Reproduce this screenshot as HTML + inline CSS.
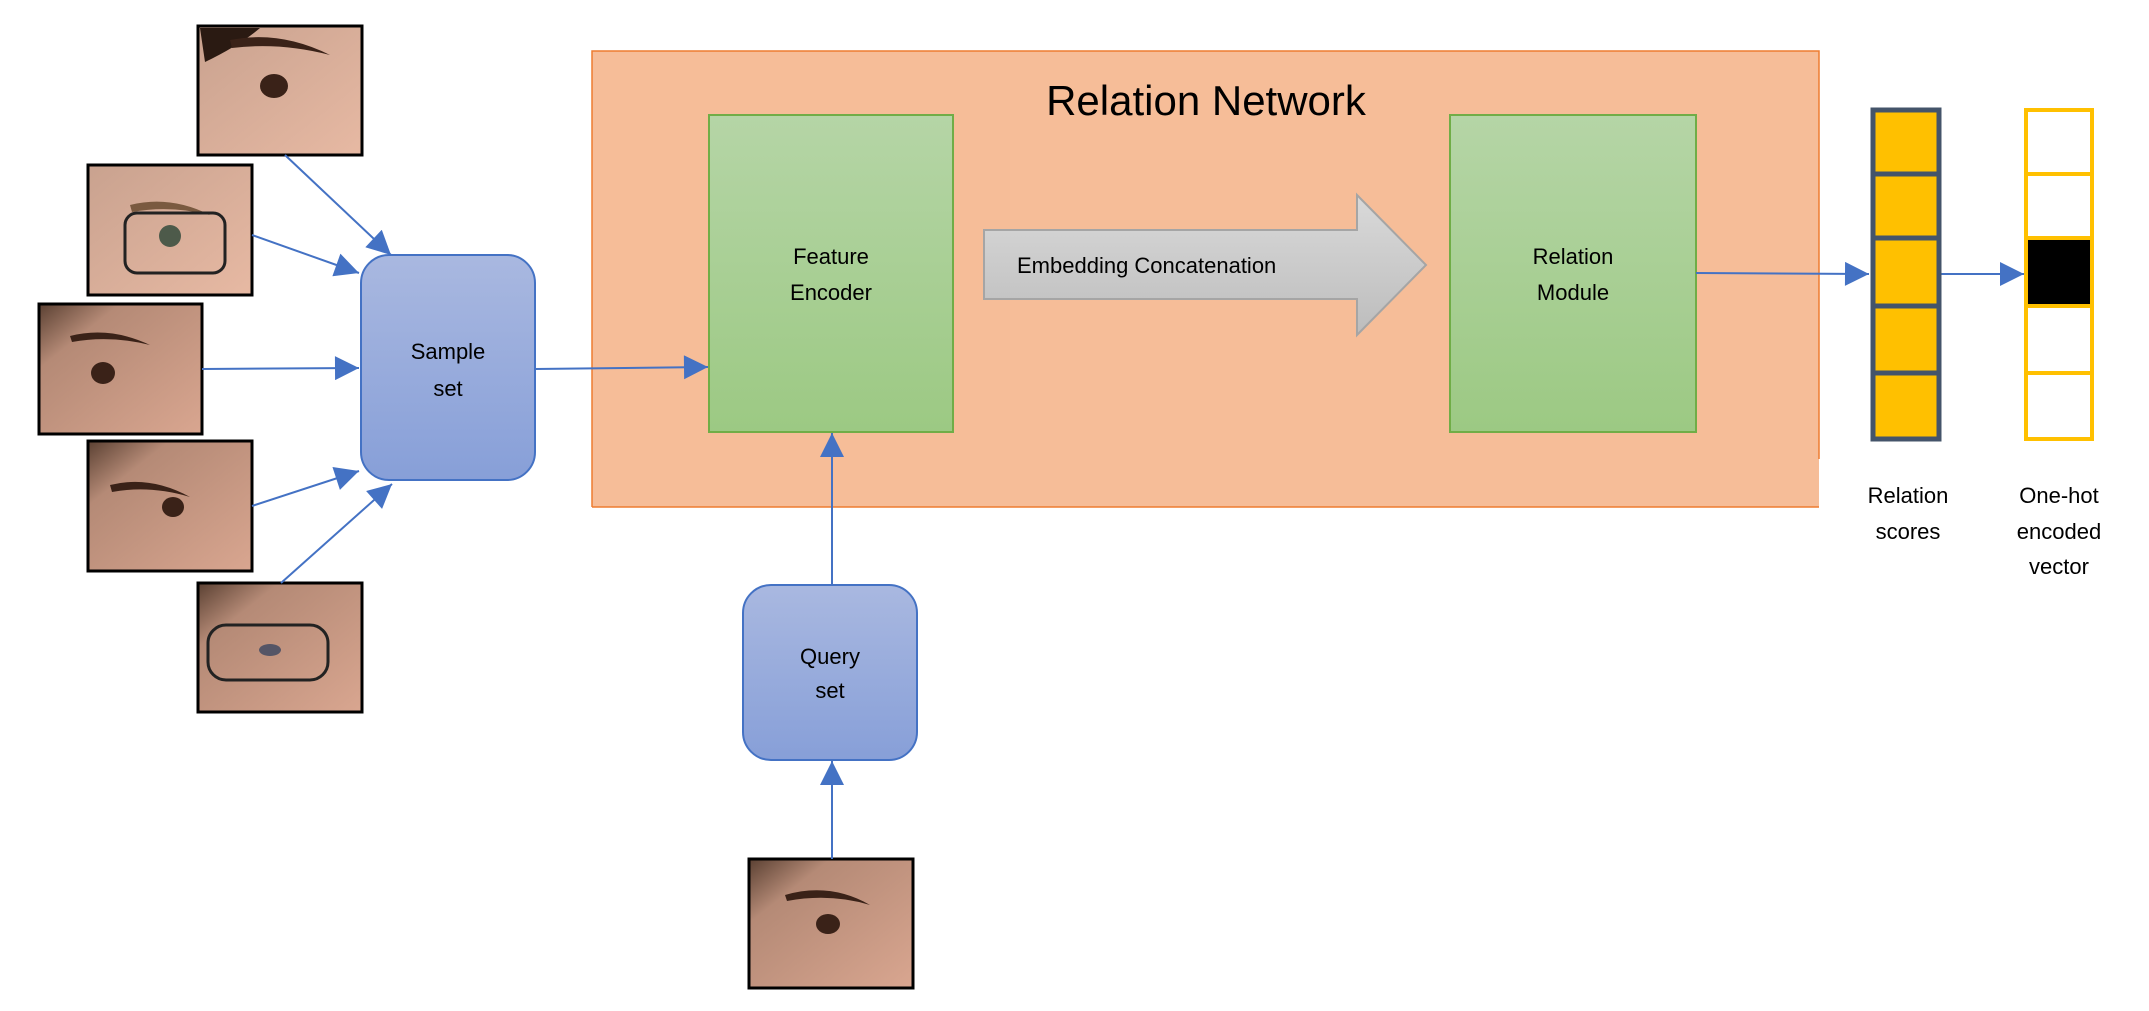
<!DOCTYPE html>
<html><head><meta charset="utf-8"><style>
html,body{margin:0;padding:0;background:#fff;}
svg{display:block;font-family:"Liberation Sans",sans-serif;}
</style></head><body>
<svg width="2149" height="1011" viewBox="0 0 2149 1011" xmlns="http://www.w3.org/2000/svg">
<defs>
<linearGradient id="g" x1="0" y1="0" x2="0" y2="1"><stop offset="0" stop-color="#b5d5a6"/><stop offset="1" stop-color="#9cc983"/></linearGradient>
<linearGradient id="b" x1="0" y1="0" x2="0" y2="1"><stop offset="0" stop-color="#a9b8e0"/><stop offset="1" stop-color="#879fd8"/></linearGradient>
<linearGradient id="ar" x1="0" y1="0" x2="0" y2="1"><stop offset="0" stop-color="#d9d9d9"/><stop offset="1" stop-color="#bdbdbd"/></linearGradient>
<linearGradient id="s1" x1="0" y1="0" x2="1" y2="1"><stop offset="0" stop-color="#c9a28f"/><stop offset="1" stop-color="#e7b9a3"/></linearGradient>
<linearGradient id="s2" x1="0" y1="0" x2="1" y2="1"><stop offset="0" stop-color="#5a4032"/><stop offset="0.25" stop-color="#b58a76"/><stop offset="1" stop-color="#d9a690"/></linearGradient>
<marker id="m" viewBox="0 0 10 10" refX="10" refY="5" markerWidth="28" markerHeight="24" markerUnits="userSpaceOnUse" orient="auto"><path d="M0,0 L10,5 L0,10 z" fill="#4472c4"/></marker>
</defs>
<!-- orange panel -->
<rect x="592" y="51" width="1227" height="456" fill="#f6bd98"/>
<path d="M592,507 L592,51 L1819,51 L1819,459" fill="none" stroke="#ed7d31" stroke-width="1.5"/>
<line x1="592" y1="507" x2="1819" y2="507" stroke="#ed7d31" stroke-width="1.5"/>
<text x="1206" y="115" font-size="42" text-anchor="middle" fill="#000">Relation Network</text>
<!-- green boxes -->
<rect x="709" y="115" width="244" height="317" fill="url(#g)" stroke="#70ad47" stroke-width="2"/>
<text x="831" y="264" font-size="22" text-anchor="middle">Feature</text>
<text x="831" y="300" font-size="22" text-anchor="middle">Encoder</text>
<rect x="1450" y="115" width="246" height="317" fill="url(#g)" stroke="#70ad47" stroke-width="2"/>
<text x="1573" y="264" font-size="22" text-anchor="middle">Relation</text>
<text x="1573" y="300" font-size="22" text-anchor="middle">Module</text>
<!-- gray arrow -->
<path d="M984,230 L1357,230 L1357,195 L1426,265 L1357,335 L1357,299 L984,299 z" fill="url(#ar)" stroke="#a5a5a5" stroke-width="2"/>
<text x="1017" y="273" font-size="22">Embedding Concatenation</text>
<!-- blue rounded -->
<rect x="361" y="255" width="174" height="225" rx="28" fill="url(#b)" stroke="#4472c4" stroke-width="2"/>
<text x="448" y="359" font-size="22" text-anchor="middle">Sample</text>
<text x="448" y="396" font-size="22" text-anchor="middle">set</text>
<rect x="743" y="585" width="174" height="175" rx="28" fill="url(#b)" stroke="#4472c4" stroke-width="2"/>
<text x="830" y="664" font-size="22" text-anchor="middle">Query</text>
<text x="830" y="698" font-size="22" text-anchor="middle">set</text>
<!-- photos -->
<g stroke="#000" stroke-width="3">
<rect x="198" y="26" width="164" height="129" fill="url(#s1)"/>
<rect x="88" y="165" width="164" height="130" fill="url(#s1)"/>
<rect x="39" y="304" width="163" height="130" fill="url(#s2)"/>
<rect x="88" y="441" width="164" height="130" fill="url(#s2)"/>
<rect x="198" y="583" width="164" height="129" fill="url(#s2)"/>
<rect x="749" y="859" width="164" height="129" fill="url(#s2)"/>
</g>
<g fill="#3a2218">
<path d="M200,28 L260,28 Q240,45 205,62 z" fill="#2a1a12"/>
<path d="M230,40 Q280,30 330,55 Q280,42 232,48 z"/>
<ellipse cx="274" cy="86" rx="14" ry="12"/>
<path d="M130,205 Q170,195 210,215 Q170,205 132,212 z" fill="#7a5a40"/>
<ellipse cx="170" cy="236" rx="11" ry="11" fill="#4d5a4a"/>
<path d="M70,336 Q110,326 150,345 Q110,335 72,342 z"/>
<ellipse cx="103" cy="373" rx="12" ry="11"/>
<path d="M110,485 Q150,475 190,497 Q150,485 112,492 z"/>
<ellipse cx="173" cy="507" rx="11" ry="10"/>
<ellipse cx="270" cy="650" rx="11" ry="6" fill="#556"/>
<path d="M785,895 Q830,882 870,905 Q830,893 787,901 z"/>
<ellipse cx="828" cy="924" rx="12" ry="10"/>
</g>
<g fill="none" stroke="#222" stroke-width="3">
<rect x="125" y="213" width="100" height="60" rx="12"/>
<rect x="208" y="625" width="120" height="55" rx="18"/>
</g>
<!-- connectors -->
<g stroke="#4472c4" stroke-width="2" fill="none" marker-end="url(#m)">
<line x1="285" y1="155" x2="391" y2="255"/>
<line x1="252" y1="235" x2="359" y2="273"/>
<line x1="202" y1="369" x2="359" y2="368"/>
<line x1="252" y1="506" x2="359" y2="471"/>
<line x1="281" y1="583" x2="392" y2="484"/>
<line x1="535" y1="369" x2="708" y2="367"/>
<line x1="832" y1="585" x2="832" y2="433"/>
<line x1="832" y1="859" x2="832" y2="761"/>
<line x1="1696" y1="273" x2="1869" y2="274"/>
<line x1="1941" y1="274" x2="2024" y2="274"/>
</g>
<!-- relation scores -->
<g stroke="#44546a" stroke-width="5" fill="#ffc000">
<rect x="1873" y="110" width="66" height="64"/>
<rect x="1873" y="174" width="66" height="64"/>
<rect x="1873" y="238" width="66" height="68"/>
<rect x="1873" y="306" width="66" height="67"/>
<rect x="1873" y="373" width="66" height="66"/>
</g>
<g stroke="#ffc000" stroke-width="4">
<rect x="2026" y="110" width="66" height="64" fill="#fff"/>
<rect x="2026" y="174" width="66" height="64" fill="#fff"/>
<rect x="2026" y="238" width="66" height="68" fill="#000"/>
<rect x="2026" y="306" width="66" height="67" fill="#fff"/>
<rect x="2026" y="373" width="66" height="66" fill="#fff"/>
</g>
<g font-size="22" text-anchor="middle">
<text x="1908" y="503">Relation</text>
<text x="1908" y="539">scores</text>
<text x="2059" y="503">One-hot</text>
<text x="2059" y="539">encoded</text>
<text x="2059" y="574">vector</text>
</g>
</svg>
</body></html>
